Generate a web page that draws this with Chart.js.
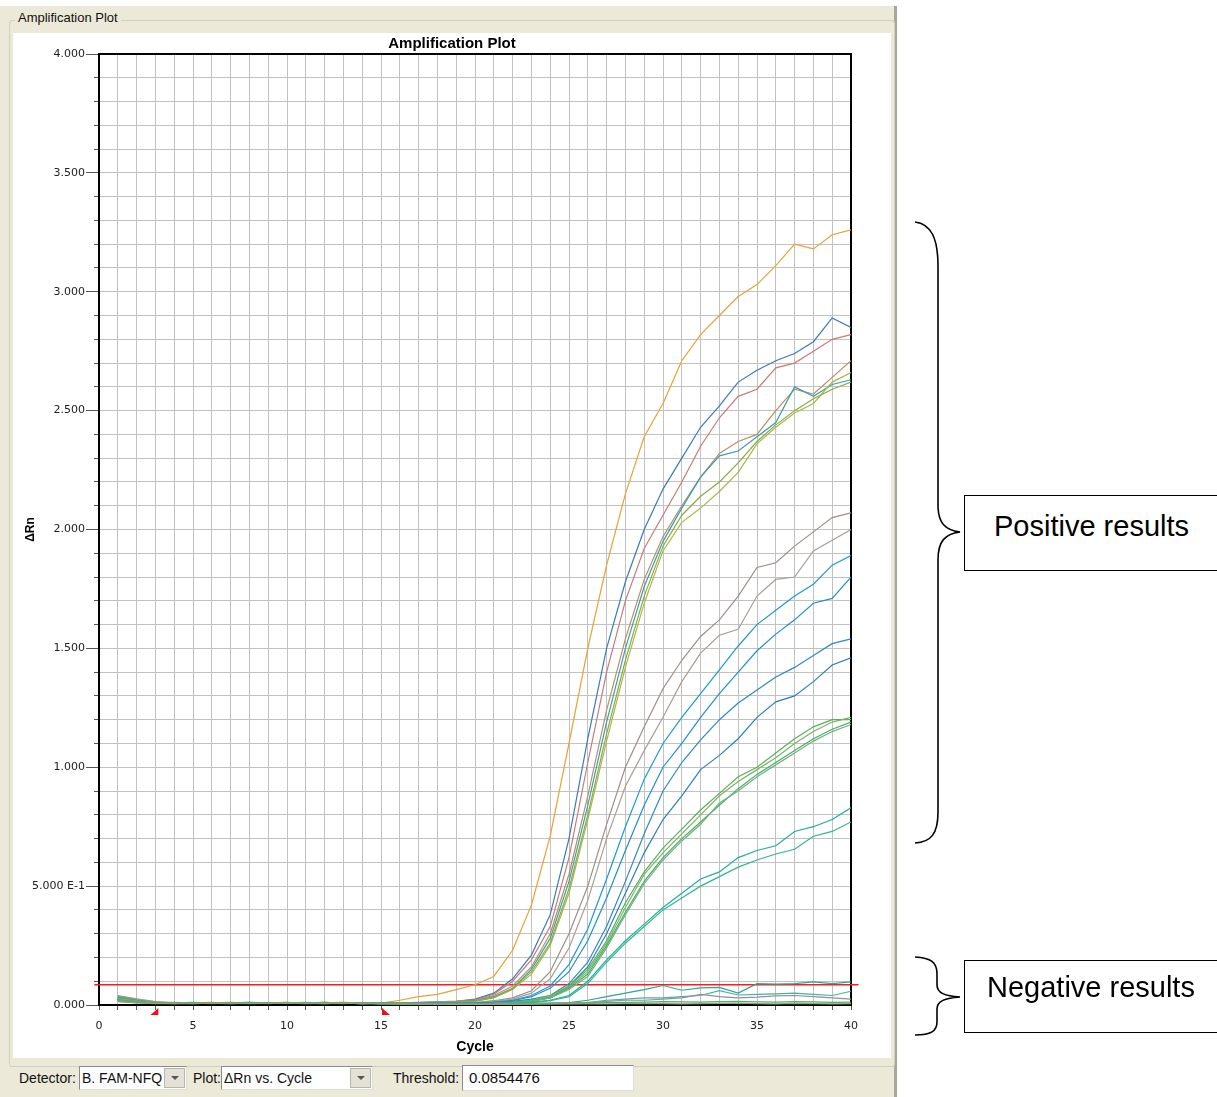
<!DOCTYPE html>
<html lang="en">
<head>
  <meta charset="UTF-8">
  <title>Amplification Plot</title>
  <script src="https://cdn.jsdelivr.net/npm/chart.js"></script>
  <style>
    body {
      margin: 0;
      width: 1217px;
      height: 1097px;
      background: #ffffff;
      position: relative;
      overflow: hidden;
      font-family: "Liberation Sans", Arial, sans-serif;
    }
    #panel {
      position: absolute; left: 0; top: 6px; width: 894px; height: 1091px;
      background: #ece9d8; border-right: 3px solid #a9a89c;
    }
    #group {
      position: absolute; left: 9px; top: 20px; width: 884px; height: 1045px;
      border: 1px solid #d0d0bf; border-radius: 3px;
    }
    #groupLabel {
      position: absolute; left: 15px; top: 10px; padding: 0 3px;
      background: #ece9d8; font: 13px "Liberation Sans", Arial, sans-serif; color: #111;
    }
    #plotBox {
      position: absolute; left: 13px; top: 33px; width: 878px; height: 1025px;
      background: #ffffff;
    }
    .lbl {
      position: absolute; top: 1070px; font-size: 14px; color: #111;
    }
    .combo {
      position: absolute; top: 1066px; height: 22px; background: #fff;
      border: 1px solid #8a8a8a; border-right-color: #dcdcdc; border-bottom-color: #dcdcdc;
      font-size: 14px; color: #111; line-height: 22px; padding-left: 2px; box-sizing: content-box;
    }
    .combo .btn {
      position: absolute; right: 1px; top: 1px; width: 19px; height: 18px;
      background: #e4e1d6; border: 1px solid #b8b6aa;
    }
    .combo .btn::after {
      content: ""; position: absolute; left: 6px; top: 7px;
      border-left: 4px solid transparent; border-right: 4px solid transparent; border-top: 4px solid #555;
    }
    #thresholdBox {
      position: absolute; left: 462px; top: 1065px; width: 164px; height: 24px; background: #fff;
      border: 1px solid #8a8a8a; border-right-color: #dcdcdc; border-bottom-color: #dcdcdc;
      font-size: 15px; line-height: 24px; padding-left: 6px; color: #111;
    }
    #notes { position: absolute; left: 0; top: 0; }
    .note {
      position: absolute; left: 964px; width: 262px; border: 1.5px solid #000; background: #fff;
      font-family: Arial, "Liberation Sans", sans-serif; font-size: 29px; line-height: 33px; color: #000;
    }
  </style>
</head>
<body>
  <div id="panel"></div>
  <div id="group"></div>
  <div id="groupLabel">Amplification Plot</div>
  <div id="plotBox"><canvas id="ampChart" width="878" height="1025"></canvas></div>

  <div class="lbl" style="left:19px;">Detector:</div>
  <div class="combo" style="left:79px; width:104px;">B. FAM-NFQ<div class="btn"></div></div>
  <div class="lbl" style="left:193px;">Plot:</div>
  <div class="combo" style="left:221px; width:148px;">ΔRn vs. Cycle<div class="btn"></div></div>
  <div class="lbl" style="left:393px;">Threshold:</div>
  <div id="thresholdBox">0.0854476</div>

  <svg id="notes" width="1217" height="1097">
    <path d="M915,222 C931,224 938,238 938,266 L938,505 C938,523 945,530 960,532 C945,534 938,541 938,560 L938,812 C938,834 931,842 915,843"
          fill="none" stroke="#000" stroke-width="1.6"/>
    <path d="M915,957 C931,958 937,962 937,974 L937,985 C937,993 945,996 960,997 C945,998 937,1001 937,1009 L937,1022 C937,1031 931,1035 915,1035"
          fill="none" stroke="#000" stroke-width="1.6"/>
  </svg>
  <div class="note" style="top:495px; height:74px;">
    <span style="position:absolute; left:29px; top:14px;">Positive results</span>
  </div>
  <div class="note" style="top:960px; height:71px;">
    <span style="position:absolute; left:22px; top:10px;">Negative results</span>
  </div>

  <script>
    const cycles = [1,2,3,4,5,6,7,8,9,10,11,12,13,14,15,16,17,18,19,20,
                    21,22,23,24,25,26,27,28,29,30,31,32,33,34,35,36,37,38,39,40];
    const yTickLabels = ["0.000","5.000 E-1","1.000","1.500","2.000","2.500","3.000","3.500","4.000"];
    const threshold = 0.0854476;
    const baselineMarks = [3, 15];

    // positive wells
    const orangeWell = [0.025,0.018,0.010,0.006,0.010,0.008,0.007,0.009,0.008,0.010,0.008,0.007,0.009,0.006,0.008,0.020,0.035,0.045,0.065,
      0.085,0.12,0.23,0.42,0.71,1.10,1.50,1.85,2.15,2.39,2.53,2.71,2.82,2.90,2.98,3.03,3.11,3.20,3.18,3.24,3.26];
    const blueWell = [0.030,0.020,0.008,0.010,0.006,0.009,0.008,0.010,0.007,0.009,0.008,0.011,0.007,0.009,0.006,0.008,0.010,0.012,0.015,
      0.025,0.05,0.11,0.21,0.38,0.70,1.12,1.50,1.78,2.00,2.17,2.30,2.43,2.52,2.62,2.67,2.71,2.74,2.79,2.89,2.85];
    const redWell = [0.028,0.016,0.010,0.007,0.009,0.011,0.006,0.008,0.009,0.007,0.010,0.008,0.009,0.007,0.008,0.009,0.011,0.013,0.016,
      0.022,0.045,0.10,0.19,0.33,0.62,1.02,1.40,1.70,1.92,2.06,2.20,2.35,2.47,2.56,2.59,2.68,2.70,2.75,2.80,2.82];
    const tanWell = [0.035,0.022,0.012,0.008,0.007,0.010,0.009,0.007,0.010,0.008,0.009,0.010,0.008,0.006,0.009,0.008,0.010,0.012,0.014,
      0.020,0.04,0.08,0.16,0.30,0.55,0.88,1.24,1.54,1.79,1.97,2.10,2.22,2.32,2.37,2.40,2.50,2.59,2.57,2.64,2.71];
    const tealWell = [0.024,0.015,0.009,0.011,0.008,0.007,0.010,0.009,0.006,0.009,0.011,0.008,0.007,0.010,0.008,0.007,0.009,0.011,0.013,
      0.018,0.035,0.07,0.15,0.28,0.52,0.84,1.19,1.50,1.76,1.95,2.09,2.22,2.31,2.33,2.39,2.45,2.60,2.56,2.61,2.63];
    const limeWell = [0.032,0.020,0.011,0.008,0.009,0.007,0.008,0.011,0.009,0.007,0.008,0.009,0.010,0.008,0.007,0.008,0.009,0.010,0.012,
      0.015,0.03,0.065,0.13,0.25,0.47,0.78,1.11,1.42,1.69,1.91,2.03,2.09,2.16,2.24,2.36,2.43,2.49,2.53,2.62,2.66];
    const oliveWell = [0.027,0.018,0.009,0.007,0.010,0.009,0.008,0.007,0.010,0.009,0.007,0.010,0.008,0.009,0.007,0.009,0.010,0.011,0.013,
      0.016,0.032,0.068,0.14,0.26,0.49,0.80,1.14,1.45,1.72,1.93,2.06,2.14,2.20,2.28,2.37,2.44,2.50,2.55,2.59,2.62];
    const grayWellA = [0.040,0.026,0.014,0.009,0.008,0.010,0.007,0.009,0.008,0.010,0.008,0.006,0.009,0.008,0.007,0.008,0.009,0.009,0.010,
      0.010,0.018,0.03,0.06,0.14,0.30,0.50,0.76,1.00,1.17,1.33,1.45,1.55,1.62,1.72,1.84,1.86,1.93,1.99,2.05,2.07];
    const grayWellB = [0.036,0.024,0.012,0.010,0.007,0.009,0.008,0.010,0.007,0.008,0.009,0.007,0.008,0.010,0.008,0.007,0.008,0.009,0.009,
      0.010,0.015,0.025,0.05,0.11,0.24,0.44,0.70,0.92,1.07,1.21,1.36,1.48,1.555,1.58,1.72,1.79,1.80,1.91,1.955,2.00];
    const skyWellA = [0.022,0.014,0.008,0.009,0.011,0.008,0.007,0.009,0.010,0.008,0.007,0.009,0.011,0.008,0.007,0.006,0.007,0.008,0.008,
      0.008,0.012,0.02,0.04,0.08,0.17,0.32,0.53,0.75,0.95,1.10,1.21,1.31,1.41,1.51,1.60,1.66,1.72,1.77,1.85,1.89];
    const skyWellB = [0.020,0.013,0.010,0.008,0.007,0.010,0.009,0.008,0.007,0.009,0.010,0.008,0.006,0.009,0.007,0.008,0.007,0.007,0.008,
      0.008,0.010,0.018,0.035,0.07,0.14,0.27,0.45,0.65,0.84,1.00,1.10,1.21,1.31,1.40,1.49,1.56,1.62,1.69,1.71,1.80];
    const midBlueWellA = [0.026,0.017,0.009,0.010,0.008,0.006,0.009,0.011,0.008,0.007,0.009,0.010,0.008,0.007,0.009,0.007,0.006,0.007,0.006,
      0.006,0.010,0.015,0.025,0.04,0.09,0.18,0.33,0.52,0.72,0.90,1.02,1.115,1.20,1.27,1.325,1.38,1.42,1.47,1.52,1.54];
    const midBlueWellB = [0.024,0.016,0.011,0.008,0.009,0.007,0.010,0.008,0.009,0.011,0.007,0.008,0.010,0.006,0.008,0.007,0.007,0.006,0.006,
      0.006,0.009,0.013,0.02,0.03,0.08,0.16,0.30,0.47,0.64,0.78,0.88,0.99,1.05,1.12,1.21,1.275,1.30,1.36,1.43,1.46];
    const greenWellA = [0.030,0.019,0.010,0.008,0.010,0.009,0.007,0.008,0.010,0.009,0.008,0.007,0.009,0.010,0.008,0.006,0.007,0.006,0.005,
      0.005,0.008,0.012,0.02,0.04,0.08,0.15,0.27,0.43,0.56,0.66,0.74,0.82,0.89,0.96,1.00,1.06,1.12,1.17,1.20,1.20];
    const greenWellB = [0.028,0.017,0.012,0.009,0.008,0.010,0.009,0.007,0.008,0.010,0.009,0.008,0.007,0.009,0.007,0.008,0.006,0.006,0.005,
      0.005,0.007,0.011,0.018,0.035,0.075,0.14,0.26,0.41,0.55,0.64,0.72,0.80,0.88,0.94,0.99,1.04,1.10,1.15,1.19,1.21];
    const greenWellC = [0.034,0.021,0.011,0.007,0.009,0.008,0.010,0.009,0.007,0.008,0.010,0.009,0.008,0.007,0.009,0.007,0.006,0.005,0.005,
      0.004,0.006,0.010,0.016,0.03,0.07,0.13,0.25,0.39,0.52,0.62,0.70,0.77,0.84,0.91,0.97,1.02,1.07,1.12,1.16,1.19];
    const greenWellD = [0.026,0.016,0.010,0.009,0.007,0.009,0.008,0.010,0.009,0.007,0.008,0.010,0.009,0.008,0.006,0.007,0.006,0.006,0.004,
      0.004,0.006,0.009,0.015,0.03,0.065,0.12,0.24,0.38,0.51,0.61,0.69,0.76,0.85,0.90,0.96,1.01,1.06,1.11,1.15,1.18];
    const aquaWellA = [0.022,0.014,0.009,0.010,0.008,0.009,0.011,0.008,0.007,0.009,0.008,0.010,0.007,0.008,0.009,0.006,0.005,0.005,0.004,
      0.004,0.006,0.008,0.012,0.02,0.04,0.10,0.19,0.27,0.34,0.41,0.47,0.53,0.56,0.62,0.65,0.67,0.73,0.75,0.78,0.83];
    const aquaWellB = [0.020,0.013,0.010,0.008,0.009,0.007,0.009,0.010,0.008,0.007,0.009,0.008,0.010,0.007,0.006,0.007,0.005,0.004,0.004,
      0.004,0.005,0.007,0.010,0.018,0.035,0.09,0.18,0.26,0.33,0.40,0.45,0.50,0.54,0.58,0.61,0.635,0.655,0.71,0.73,0.77];

    // negative wells
    const negWellA = [0.018,0.012,0.009,0.008,0.010,0.008,0.009,0.007,0.010,0.008,0.009,0.011,0.008,0.007,0.008,0.006,0.005,0.005,0.004,
      0.004,0.005,0.006,0.007,0.008,0.010,0.020,0.035,0.050,0.065,0.082,0.062,0.072,0.074,0.050,0.090,0.088,0.090,0.097,0.090,0.097];
    const negWellB = [0.016,0.011,0.008,0.009,0.007,0.009,0.008,0.010,0.007,0.009,0.007,0.008,0.009,0.010,0.007,0.006,0.005,0.004,0.004,
      0.004,0.004,0.005,0.006,0.007,0.008,0.010,0.020,0.025,0.030,0.030,0.035,0.040,0.060,0.042,0.045,0.047,0.050,0.045,0.040,0.058];
    const negWellC = [0.020,0.013,0.009,0.007,0.008,0.010,0.007,0.008,0.009,0.008,0.010,0.007,0.008,0.009,0.008,0.006,0.006,0.005,0.005,
      0.004,0.004,0.005,0.006,0.007,0.008,0.010,0.015,0.020,0.020,0.025,0.030,0.045,0.035,0.030,0.033,0.038,0.040,0.035,0.030,0.025];
    const negWellD = [0.015,0.010,0.007,0.008,0.009,0.007,0.006,0.009,0.008,0.007,0.008,0.006,0.007,0.008,0.006,0.005,0.004,0.004,0.003,
      0.003,0.004,0.004,0.005,0.005,0.006,0.008,0.010,0.011,0.012,0.014,0.013,0.012,0.014,0.015,0.013,0.012,0.014,0.013,0.011,0.012];
    const negWellE = [0.014,0.009,0.006,0.007,0.006,0.008,0.007,0.006,0.007,0.008,0.006,0.007,0.008,0.006,0.005,0.005,0.004,0.003,0.003,
      0.003,0.003,0.004,0.004,0.005,0.005,0.006,0.005,0.006,0.007,0.006,0.005,0.006,0.007,0.008,0.006,0.005,0.007,0.006,0.005,0.006];

    const wells = [negWellE, negWellD, negWellC, negWellB, negWellA,
      aquaWellB, aquaWellA, greenWellD, greenWellC, greenWellB, greenWellA,
      midBlueWellB, midBlueWellA, skyWellB, skyWellA, grayWellB, grayWellA,
      oliveWell, limeWell, tealWell, tanWell, redWell, blueWell, orangeWell];
    const wellColors = ["#a0a060", "#3cb38c", "#9a9090", "#48b0a4", "#2fa596",
      "#2cb890", "#1fae9e", "#6cb47a", "#4ca86a", "#76b662", "#5aae58",
      "#2a7fbe", "#2f88c4", "#1f8fcc", "#1a9ad2", "#a89e96", "#9c8e88",
      "#8aaa44", "#a8b846", "#3a9eaa", "#b88f68", "#c87a78", "#3a7ab8", "#e8a232"];

    const datasets = wells.map((vals, i) => ({
      data: cycles.map((c, j) => ({ x: c, y: vals[j] })),
      borderColor: wellColors[i],
      borderWidth: 1.2,
      pointRadius: 0,
      tension: 0,
      fill: false
    }));

    datasets.push({
      data: [{ x: -0.25, y: threshold }, { x: 40.4, y: threshold }],
      borderColor: "#ff1a1a",
      borderWidth: 1.5,
      pointRadius: 0,
      clip: false
    });

    // top and right edges of the plot frame
    const framePlugin = {
      id: "frame",
      beforeDatasetsDraw(chart) {
        const a = chart.chartArea;
        const ctx = chart.ctx;
        ctx.save();
        ctx.strokeStyle = "#000";
        ctx.lineWidth = 2;
        ctx.beginPath();
        ctx.moveTo(a.left, a.top);
        ctx.lineTo(a.right, a.top);
        ctx.lineTo(a.right, a.bottom);
        ctx.stroke();
        ctx.restore();
      }
    };

    // red baseline start / end markers under the cycle axis
    const baselinePlugin = {
      id: "baselineMarks",
      afterDraw(chart) {
        const xs = chart.scales.x;
        const y0 = chart.scales.y.getPixelForValue(0);
        const ctx = chart.ctx;
        ctx.save();
        ctx.fillStyle = "#ee1111";
        baselineMarks.forEach((c, i) => {
          const px = xs.getPixelForValue(c);
          ctx.beginPath();
          if (i === 0) {
            ctx.moveTo(px + 3, y0 + 3);
            ctx.lineTo(px + 3, y0 + 10);
            ctx.lineTo(px - 5, y0 + 10);
          } else {
            ctx.moveTo(px + 1, y0 + 3);
            ctx.lineTo(px + 1, y0 + 10);
            ctx.lineTo(px + 9, y0 + 10);
          }
          ctx.closePath();
          ctx.fill();
        });
        ctx.restore();
      }
    };

    Chart.defaults.font.family = "'DejaVu Sans', sans-serif";
    Chart.defaults.color = "#222";

    new Chart(document.getElementById("ampChart"), {
      type: "line",
      data: { datasets: datasets },
      plugins: [framePlugin, baselinePlugin],
      options: {
        responsive: false,
        animation: false,
        layout: { padding: 0 },
        plugins: {
          legend: { display: false },
          tooltip: { enabled: false },
          title: {
            display: true,
            text: "Amplification Plot",
            color: "#000",
            font: { family: "'Liberation Sans', Arial, sans-serif", size: 15, weight: "bold" },
            padding: { top: 2, bottom: 1 }
          }
        },
        scales: {
          x: {
            type: "linear", position: "bottom", min: 0, max: 40,
            ticks: {
              stepSize: 1, autoSkip: false, maxRotation: 0, padding: 10,
              font: { size: 11 },
              callback: v => (Math.abs(v - Math.round(v)) < 1e-6 && Math.round(v) % 5 === 0) ? String(Math.round(v)) : ""
            },
            grid: { color: "#c2c2c2", lineWidth: 1, tickLength: 5, tickColor: "#555" },
            border: { color: "#000", width: 2 },
            title: {
              display: true, text: "Cycle", color: "#000",
              font: { family: "'Liberation Sans', Arial, sans-serif", size: 14, weight: "bold" },
              padding: { top: 0, bottom: 2 }
            },
            afterFit: s => { s.height = 53; }
          },
          y: {
            type: "linear", position: "left", weight: 1, min: 0, max: 4,
            ticks: {
              stepSize: 0.5, autoSkip: false, padding: 1,
              font: { size: 11 },
              callback: (v, i) => yTickLabels[i]
            },
            grid: { drawOnChartArea: false, tickLength: 8, tickColor: "#555" },
            border: { display: false },
            title: {
              display: true, text: "ΔRn", color: "#000",
              font: { family: "'Liberation Sans', Arial, sans-serif", size: 12, weight: "bold" },
              padding: { top: 10, bottom: 0 }
            },
            afterFit: s => { s.width = 81; }
          },
          yMinor: {
            type: "linear", position: "left", weight: 0, min: 0, max: 4,
            ticks: { stepSize: 0.1, autoSkip: false, padding: 0, callback: () => "" },
            grid: { color: "#c2c2c2", lineWidth: 1, tickLength: 5, tickColor: "#555" },
            border: { color: "#000", width: 2 },
            afterFit: s => { s.width = 5; }
          },
          yRight: {
            type: "linear", position: "right", min: 0, max: 4,
            ticks: { display: false },
            grid: { display: false },
            border: { display: false },
            afterFit: s => { s.width = 40; }
          }
        }
      }
    });
  </script>
</body>
</html>
